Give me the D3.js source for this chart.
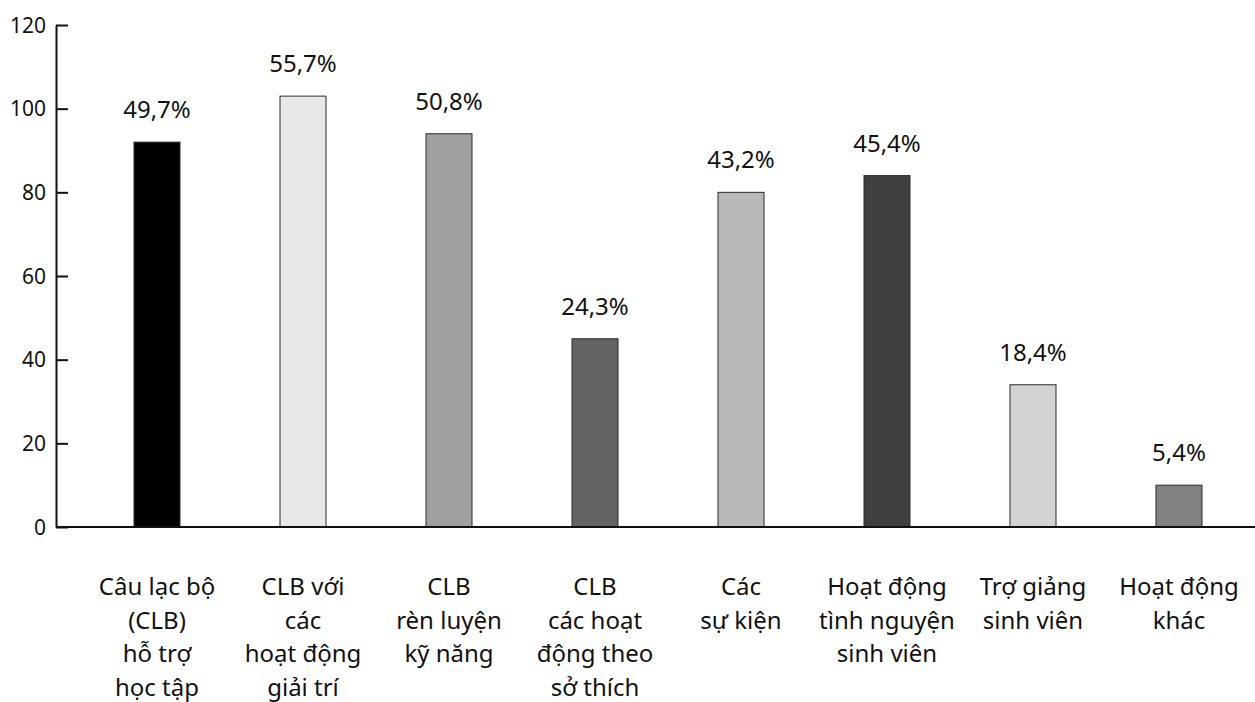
<!DOCTYPE html>
<html>
<head>
<meta charset="utf-8">
<script src="https://cdn.jsdelivr.net/npm/d3@7"></script>
<style>
  html, body { margin: 0; padding: 0; background: #fff; }
  svg { display: block; }
  text { font-family: "Noto Sans", "Open Sans", sans-serif; fill: #111; }
</style>
</head>
<body>
<svg id="chart" width="1255" height="702"></svg>
<script>
// Categories (each entry split into display lines)
const categories = [
  ["Câu lạc bộ", "(CLB)", "hỗ trợ", "học tập"],
  ["CLB với", "các", "hoạt động", "giải trí"],
  ["CLB", "rèn luyện", "kỹ năng"],
  ["CLB", "các hoạt", "động theo", "sở thích"],
  ["Các", "sự kiện"],
  ["Hoạt động", "tình nguyện", "sinh viên"],
  ["Trợ giảng", "sinh viên"],
  ["Hoạt động", "khác"]
];
// Respondent counts per category
const counts = [92, 103, 94, 45, 80, 84, 34, 10];
// Percentage labels shown above bars
const percents = ["49,7%", "55,7%", "50,8%", "24,3%", "43,2%", "45,4%", "18,4%", "5,4%"];
// Bar fills
const fills = ["#000000", "#e8e8e8", "#a0a0a0", "#636363", "#b9b9b9", "#3f3f3f", "#d2d2d2", "#828282"];
// Y axis ticks
const yTicks = [0, 20, 40, 60, 80, 100, 120];

const svg = d3.select("#chart");
const axisX = 56, baseY = 527, topY = 25, rightX = 1255;

const y = d3.scaleLinear().domain([0, 120]).range([baseY, topY]);
const x = d3.scalePoint()
  .domain(d3.range(categories.length))
  .range([157, 1179]);
const barW = 46;

// Bars
svg.append("g").selectAll("rect")
  .data(counts)
  .join("rect")
  .attr("x", (d, i) => x(i) - barW / 2)
  .attr("y", d => y(d))
  .attr("width", barW)
  .attr("height", d => y(0) - y(d))
  .attr("fill", (d, i) => fills[i])
  .attr("stroke", "#2a2a2a")
  .attr("stroke-width", 1);

// Value labels
svg.append("g").selectAll("text")
  .data(counts)
  .join("text")
  .attr("x", (d, i) => x(i))
  .attr("y", d => y(d) - 24)
  .attr("text-anchor", "middle")
  .attr("font-size", 24)
  .text((d, i) => percents[i]);

// Y axis with inward ticks
const yAxis = d3.axisRight(y)
  .tickValues(yTicks)
  .tickSize(12)
  .tickSizeOuter(0)
  .tickFormat("");
const gy = svg.append("g").attr("transform", `translate(${axisX},0)`).call(yAxis);
gy.select(".domain").attr("stroke", "#111").attr("stroke-width", 2);
gy.selectAll(".tick line").attr("stroke", "#111").attr("stroke-width", 2);

svg.append("g").selectAll("text")
  .data(yTicks)
  .join("text")
  .attr("x", axisX - 10)
  .attr("y", d => y(d))
  .attr("dy", "0.36em")
  .attr("text-anchor", "end")
  .attr("font-size", 21)
  .text(d => d);

// X baseline
svg.append("line")
  .attr("x1", axisX).attr("x2", rightX)
  .attr("y1", baseY).attr("y2", baseY)
  .attr("stroke", "#111").attr("stroke-width", 2);

// Category labels
const lab = svg.append("g").selectAll("text")
  .data(categories)
  .join("text")
  .attr("text-anchor", "middle")
  .attr("font-size", 24);
lab.selectAll("tspan")
  .data((d, i) => d.map(t => ({ t, i })))
  .join("tspan")
  .attr("x", d => x(d.i))
  .attr("y", (d, j) => 595 + j * 33.5)
  .text(d => d.t);
</script>
</body>
</html>
